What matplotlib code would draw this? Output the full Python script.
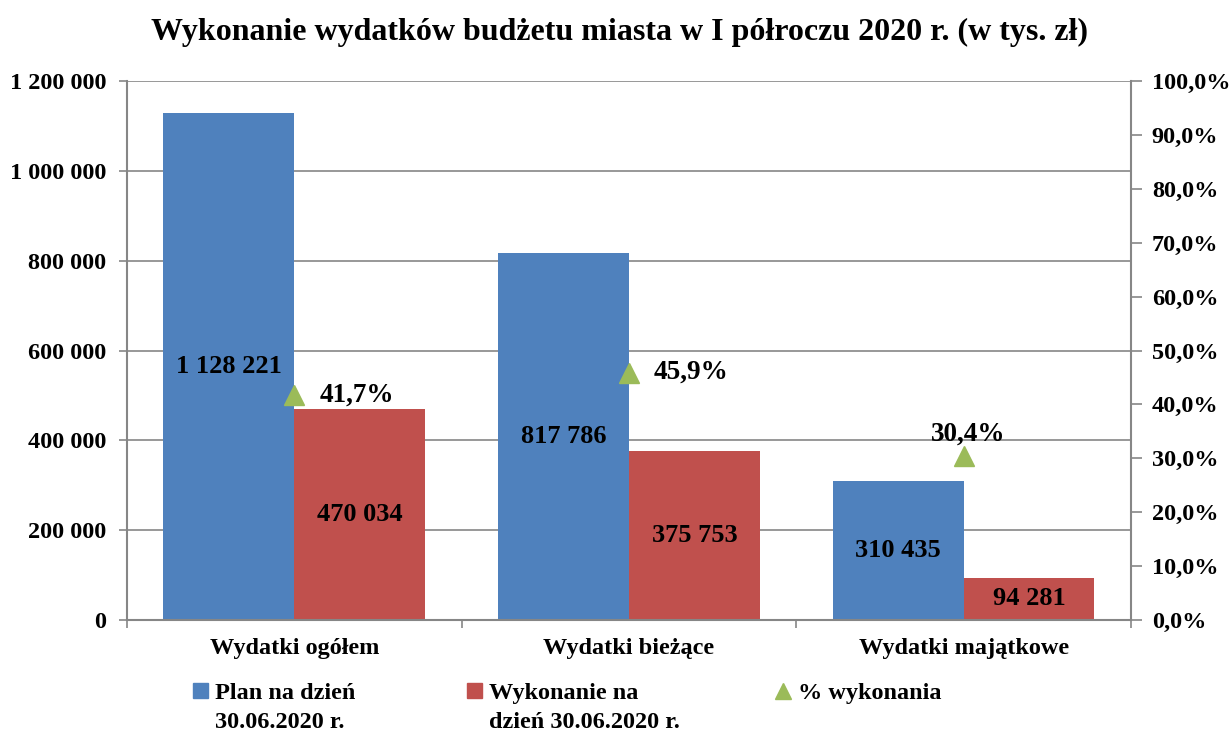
import matplotlib
matplotlib.use("Agg")
import matplotlib.pyplot as plt
from matplotlib.ticker import FuncFormatter, FixedLocator
from matplotlib.lines import Line2D
from matplotlib.patches import Patch

categories = ["Wydatki ogółem", "Wydatki bieżące", "Wydatki majątkowe"]
plan = [1128221, 817786, 310435]
wykonanie = [470034, 375753, 94281]
procent = [0.417, 0.459, 0.304]
series_first = ["Plan na dzień", "Wykonanie na", "% wykonania"]
series_second = ["30.06.2020 r.", "dzień 30.06.2020 r.", ""]
title = "Wykonanie wydatków budżetu miasta w I półroczu 2020 r. (w tys. zł)"

plt.rcParams['font.family'] = ['Liberation Serif', 'DejaVu Serif']
plt.rcParams['font.weight'] = 'bold'

BLUE = "#4F81BD"
RED = "#C0504D"
GREEN = "#9BBB59"
GRAY = "#868686"
TS = 17.5

fig = plt.figure(figsize=(12.32, 7.29), dpi=100)
ax = fig.add_axes([0.1031, 0.1495, 0.8149, 0.7394])
ax2 = ax.twinx()

def fmt_space(v, pos=None):
    return f"{int(round(v)):,}".replace(",", " ")

def fmt_pct(v, pos=None):
    return f"{v*100:.1f}%".replace(".", ",")

x = list(range(len(categories)))
w = 0.391
ax.set_axisbelow(True)
bars1 = ax.bar([i - w/2 for i in x], plan, width=w, color=BLUE, zorder=2)
bars2 = ax.bar([i + w/2 for i in x], wykonanie, width=w, color=RED, zorder=2)

ax.set_xlim(-0.5, len(categories) - 0.5)
ax.set_ylim(0, 1200000)
ax.set_yticks(range(0, 1200001, 200000))
ax.yaxis.set_major_formatter(FuncFormatter(fmt_space))
ax.yaxis.grid(True, color=GRAY, linewidth=1.2)
ax.set_xticks(x)
ax.set_xticklabels(categories, fontsize=TS, fontweight='bold')
ax.xaxis.set_minor_locator(FixedLocator([-0.5, 0.5, 1.5, 2.5]))
ax.tick_params(axis='x', which='major', length=0, pad=13)
ax.tick_params(axis='x', which='minor', length=6, color=GRAY, width=1.2)
ax.tick_params(axis='y', length=6, color=GRAY, width=1.2, labelsize=TS, pad=9)
for lbl in ax.get_yticklabels():
    lbl.set_fontweight('bold')

for s in ['top', 'right']:
    ax.spines[s].set_visible(False)
for s in ['left', 'bottom']:
    ax.spines[s].set_color(GRAY)
    ax.spines[s].set_linewidth(1.5)

ax2.set_ylim(0, 1.0)
ax2.set_yticks([i/10 for i in range(11)])
ax2.yaxis.set_major_formatter(FuncFormatter(fmt_pct))
ax2.tick_params(axis='y', length=8, color=GRAY, width=1.2, labelsize=TS, pad=7)
for lbl in ax2.get_yticklabels():
    lbl.set_fontweight('bold')
for s in ['top', 'left', 'bottom']:
    ax2.spines[s].set_visible(False)
ax2.spines['right'].set_color(GRAY)
ax2.spines['right'].set_linewidth(1.5)

ax2.plot(x, procent, linestyle='none', marker='^', markersize=14, color=GREEN, zorder=3)

for b, v in zip(bars1, plan):
    ax.text(b.get_x() + b.get_width()/2, v/2, fmt_space(v), ha='center', va='center',
            fontsize=19, fontweight='bold', zorder=4)
for b, v in zip(bars2, wykonanie):
    ax.text(b.get_x() + b.get_width()/2, v/2, fmt_space(v), ha='center', va='center',
            fontsize=19, fontweight='bold', zorder=4)

offsets = [(18, 0, 'left', 'center'), (18, 0, 'left', 'center'), (3, 7, 'center', 'bottom')]
for i, (p, off) in enumerate(zip(procent, offsets)):
    ax2.annotate(fmt_pct(p), (i, p), xytext=(off[0], off[1]), textcoords='offset points',
                 ha=off[2], va=off[3], fontsize=19.5, fontweight='bold', zorder=4)

fig.text(0.503, 0.955, title, ha='center', va='center', fontsize=23, fontweight='bold')

handles = [Patch(color=BLUE), Patch(color=RED),
           Line2D([], [], linestyle='none', marker='^', color=GREEN, markersize=12)]
anchors = [0.1567, 0.379, 0.630]
legends = []
for h, lab, ax_x in zip(handles, series_first, anchors):
    lg = fig.legend([h], [lab], loc='center left', bbox_to_anchor=(ax_x, 0.049),
                    frameon=False, prop={'family': ['Liberation Serif'], 'weight': 'bold', 'size': TS},
                    handlelength=0.6, handleheight=0.6, handletextpad=0.3,
                    borderaxespad=0, borderpad=0)
    legends.append(lg)

fig.canvas.draw()
renderer = fig.canvas.get_renderer()
inv = fig.transFigure.inverted()
for lg, second in zip(legends, series_second):
    if not second:
        continue
    t = lg.get_texts()[0]
    bb = t.get_window_extent(renderer)
    x0, y0 = inv.transform((bb.x0, bb.y0))
    fig.text(x0, y0 - 0.011, second, ha='left', va='top', fontsize=TS, fontweight='bold')

fig.savefig("out.png", dpi=100)
